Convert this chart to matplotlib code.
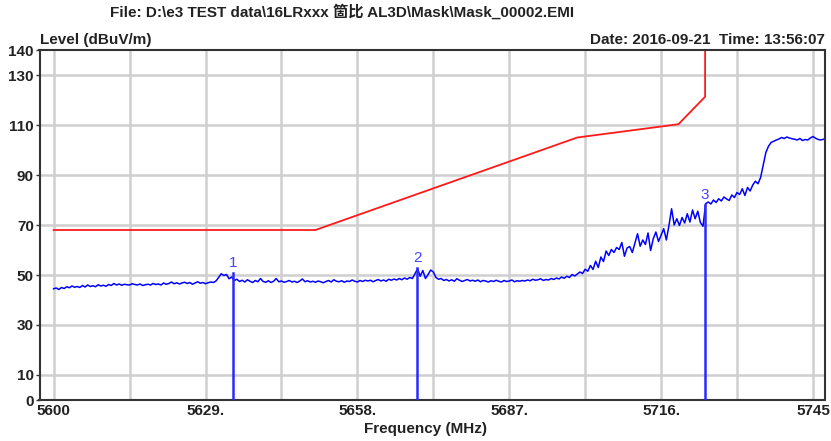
import numpy as np
import matplotlib
matplotlib.use("Agg")
import matplotlib.pyplot as plt
from matplotlib import font_manager

# ---------------- data ----------------
title_text = "File: D:\\e3 TEST data\\16LRxxx 箇比 AL3D\\Mask\\Mask_00002.EMI"
ylabel_text = "Level (dBuV/m)"
xlabel_text = "Frequency (MHz)"
date_text = "Date: 2016-09-21  Time: 13:56:07"

freq_start = 5600.0
freq_step = 0.5
level_trace = [
    # 5600 - 5609.5
    44.5, 44.8, 44.2, 45.0, 44.6, 45.3, 44.9, 45.6, 45.1, 45.4, 45.0, 45.8, 45.2, 46.0, 45.4, 45.7, 45.3, 46.1, 45.6, 45.9,
    # 5610 - 5619.5
    45.5, 46.2, 45.8, 46.6, 46.0, 46.4, 45.9, 46.3, 46.1, 46.0, 46.5, 46.2, 46.0, 46.4, 45.8, 46.1, 46.3, 46.0, 46.6, 46.2,
    # 5620 - 5629.5
    46.4, 46.0, 46.8, 46.3, 46.6, 47.2, 46.5, 46.9, 46.4, 46.8, 47.1, 46.6, 47.0, 46.3, 46.8, 47.3, 46.7, 47.0, 46.5, 46.9,
    # 5630 - 5639.5
    47.2, 47.0, 47.6, 49.0, 50.5, 49.8, 50.2, 48.5, 49.2, 47.8, 48.3, 47.4, 47.9, 47.2, 48.1, 47.5, 47.0, 47.8, 47.3, 48.6,
    # 5640 - 5649.5
    47.4, 47.1, 47.7, 47.0, 47.5, 48.6, 47.3, 47.6, 47.1, 47.4, 47.8, 47.2, 47.5, 47.0, 47.6, 48.4, 47.3, 47.7, 47.2, 47.5,
    # 5650 - 5659.5
    47.1, 47.6, 47.3, 46.9, 47.4, 47.8, 47.2, 48.1, 47.5, 47.3, 47.7, 47.1, 47.6, 47.4, 48.0, 47.5, 47.2, 47.8, 47.4, 47.9,
    # 5660 - 5669.5
    47.6, 47.9, 47.3, 47.8, 48.2, 47.6, 48.0, 47.5, 48.3, 47.9, 48.4, 48.0, 48.6, 48.1, 48.8, 48.3, 49.0, 48.6, 50.5, 52.5,
    # 5670 - 5679.5
    49.5, 51.8, 48.6, 50.2, 52.0, 51.2, 49.0, 48.3, 48.6, 47.8, 48.2, 47.6, 48.1, 47.5, 48.5, 47.9, 47.4, 47.8, 48.2, 47.6,
    # 5680 - 5689.5
    47.9, 47.5, 48.0, 47.3, 47.8, 47.6, 47.2, 47.7, 47.4, 47.9, 47.5, 47.2, 47.8, 47.4, 47.6, 48.0, 47.3, 47.7, 47.5, 47.8,
    # 5690 - 5699.5
    47.6, 48.0, 47.7, 48.3, 47.9, 48.1, 48.5, 47.8, 48.2, 48.0, 48.6, 48.2, 48.8, 48.4, 49.2, 48.7, 49.5, 49.0, 50.2, 49.6,
    # 5700 - 5709.5
    50.4, 51.2, 50.6, 52.3, 51.5, 53.8, 52.2, 55.5, 53.0, 57.2, 55.4, 59.6, 57.8, 60.2, 59.0, 61.0, 60.2, 63.0, 57.5, 60.8,
    # 5710 - 5719.5
    61.4, 59.0, 62.8, 66.5, 61.5, 64.0, 62.2, 66.8, 59.8, 64.5, 67.2, 63.4, 66.0, 68.5, 64.0, 69.8, 76.5, 70.0, 72.5, 69.8,
    # 5720 - 5729.5
    73.0, 70.8, 74.5, 71.2, 76.0, 72.5, 75.5, 71.0, 69.5, 78.5, 79.2, 78.4, 80.0, 79.0, 80.5, 79.6, 81.2, 80.4, 79.8, 82.0,
    # 5730 - 5739.5
    81.0, 83.0, 82.2, 84.5, 81.8, 85.0, 83.6, 86.0, 87.5, 86.5, 89.0, 94.0, 99.0, 101.5, 103.0, 103.5, 104.0, 104.4, 105.0, 104.6,
    # 5740 - 5747
    105.2, 104.8, 104.5, 104.3, 104.0, 104.6, 103.8, 104.2, 104.0, 104.8, 105.4, 104.7, 104.2, 104.0, 104.3,
]

limit_freq = [5600.0, 5650.0, 5700.0, 5719.3, 5724.4, 5724.4]
limit_level = [68.0, 68.0, 105.0, 110.3, 121.3, 160.0]

marker_ids = ["1", "2", "3"]
marker_freq = [5634.3, 5669.4, 5724.4]
marker_level = [51.0, 52.8, 78.0]

ytick_values = [0, 10, 30, 50, 70, 90, 110, 130, 140]
xgrid_values = [5600, 5614.5, 5629, 5643.5, 5658, 5672.5, 5687, 5701.5, 5716, 5730.5, 5745]
xtick_values = [5600, 5629, 5658, 5687, 5716, 5745]
xtick_labels = ["5600", "5629.", "5658.", "5687.", "5716.", "5745"]

# ---------------- fonts ----------------
names = {f.name for f in font_manager.fontManager.ttflist}
if "Liberation Sans Narrow" in names:
    fam = "Liberation Sans Narrow"
    fs = 12.5
else:
    fam = "Liberation Sans"
    fs = 11
plt.rcParams["font.family"] = [fam, "Noto Sans CJK SC", "DejaVu Sans"]

W, H = 831, 441
fig = plt.figure(figsize=(W / 100, H / 100), dpi=100)
ax = fig.add_axes([39.5 / W, 1 - 400 / H, (824.5 - 39.5) / W, 350 / H])

freq = freq_start + freq_step * np.arange(len(level_trace))

# grid
for g in xgrid_values:
    ax.axvline(g, color="#cfcfcf", lw=1.8, zorder=0)
for g in ytick_values[1:-1]:
    ax.axhline(g, color="#cfcfcf", lw=1.8, zorder=0)

ax.plot(limit_freq, limit_level, color="#ff1a1a", lw=1.3, zorder=2)
ax.plot(freq, level_trace, color="#0000ff", lw=1.1, zorder=3)

for mid, mf, ml in zip(marker_ids, marker_freq, marker_level):
    ax.plot([mf, mf], [0, ml], color="#2a2aff", lw=1.8, zorder=4)
    ax.text(mf, ml + 1.2, mid, color="#4545ff", fontsize=fs, ha="center", va="bottom", zorder=5)

ax.set_xlim(5597.3, 5747.2)
ax.set_ylim(0, 140)
ax.set_yticks(ytick_values)
ax.set_yticklabels([str(v) for v in ytick_values], fontweight="bold", fontsize=fs, color="#222222")
ax.set_xticks(xtick_values)
ax.set_xticklabels(xtick_labels, fontweight="bold", fontsize=fs, color="#222222")
ax.tick_params(axis="y", length=3, width=1, pad=1, color="#333333")
ax.tick_params(axis="x", length=0, pad=3)
for s in ax.spines.values():
    s.set_color("#333333")
    s.set_linewidth(1.5)

fig.text(342 / W, 1 - 12 / H, title_text, ha="center", va="center", fontsize=fs, fontweight="bold", color="#222222")
fig.text(40 / W, 1 - 40 / H, ylabel_text, ha="left", va="center", fontsize=fs, fontweight="bold", color="#222222")
fig.text(825 / W, 1 - 40 / H, date_text, ha="right", va="center", fontsize=fs, fontweight="bold", color="#222222")
fig.text(425 / W, 1 - 429 / H, xlabel_text, ha="center", va="center", fontsize=fs, fontweight="bold", color="#222222")

fig.savefig("out.png", dpi=100)
